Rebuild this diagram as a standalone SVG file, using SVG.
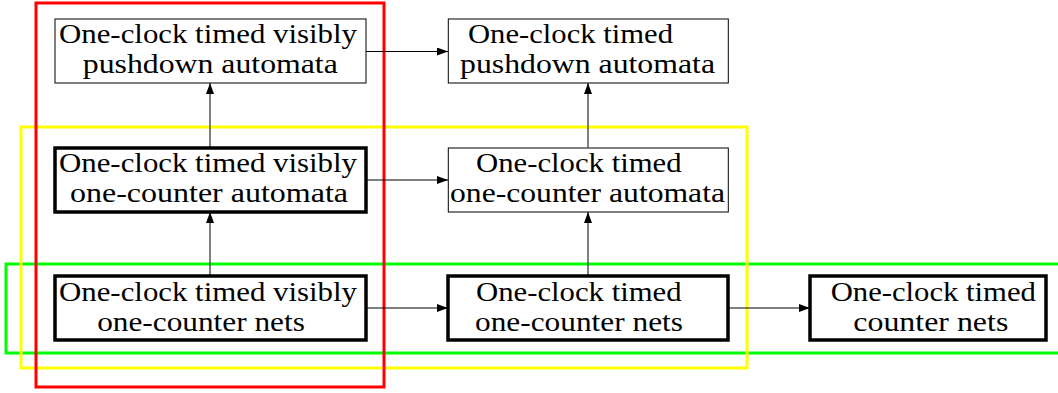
<svg xmlns="http://www.w3.org/2000/svg" width="1058" height="393" viewBox="0 0 1058 393">
  <style>
    .node rect { fill: #ffffff; stroke: #000000; }
    .thin { stroke-width: 1; }
    .thick { stroke-width: 3.5; }
    .node text { font-family: "Liberation Serif", "DejaVu Serif", serif; font-size: 28px; fill: #000000; text-anchor: middle; }
    .edge { stroke: #000000; stroke-width: 1; fill: none; marker-end: url(#arrow); }
    .group { fill: none; stroke-width: 3; }
  </style>
  <defs>
    <marker id="arrow" markerUnits="userSpaceOnUse" markerWidth="12" markerHeight="8" refX="11" refY="4" orient="auto">
      <path d="M0,0 L11,4 L0,8 Z" fill="#000000"/>
    </marker>
  </defs>

  <!-- grouping frames -->
  <g id="frames">
    <rect class="group" x="6" y="264" width="1060" height="89" stroke="#00ff00"/>
    <rect class="group" x="21" y="127" width="726" height="241" stroke="#ffff00"/>
    <rect class="group" x="36" y="3" width="348" height="384" stroke="#ff0000"/>
  </g>

  <!-- connectors -->
  <g id="connectors">
    <line class="edge" x1="366" y1="51.5" x2="448" y2="51.5"/>
    <line class="edge" x1="366" y1="180" x2="448" y2="180"/>
    <line class="edge" x1="366" y1="308" x2="448" y2="308"/>
    <line class="edge" x1="728" y1="308" x2="810" y2="308"/>
    <line class="edge" x1="210" y1="147.5" x2="210" y2="83"/>
    <line class="edge" x1="210" y1="275.5" x2="210" y2="212"/>
    <line class="edge" x1="588" y1="147.5" x2="588" y2="83"/>
    <line class="edge" x1="588" y1="275.5" x2="588" y2="212"/>
  </g>

  <!-- nodes -->
  <g id="tvpda" class="node">
    <rect class="thin" x="55" y="19" width="311" height="64"/>
    <text x="208" y="43.3" textLength="298" lengthAdjust="spacingAndGlyphs">One-clock timed visibly</text>
    <text x="210.3" y="73.3" textLength="255" lengthAdjust="spacingAndGlyphs">pushdown automata</text>
  </g>
  <g id="tpda" class="node">
    <rect class="thin" x="448.3" y="19" width="280" height="64"/>
    <text x="570.5" y="43.3" textLength="205" lengthAdjust="spacingAndGlyphs">One-clock timed</text>
    <text x="587.5" y="73.3" textLength="255" lengthAdjust="spacingAndGlyphs">pushdown automata</text>
  </g>
  <g id="tvoca" class="node">
    <rect class="thick" x="55" y="148" width="311" height="64"/>
    <text x="208" y="171.7" textLength="298" lengthAdjust="spacingAndGlyphs">One-clock timed visibly</text>
    <text x="209" y="201.7" textLength="278" lengthAdjust="spacingAndGlyphs">one-counter automata</text>
  </g>
  <g id="toca" class="node">
    <rect class="thin" x="448.3" y="148" width="280" height="64"/>
    <text x="578.8" y="171.7" textLength="205.7" lengthAdjust="spacingAndGlyphs">One-clock timed</text>
    <text x="587.5" y="201.7" textLength="275" lengthAdjust="spacingAndGlyphs">one-counter automata</text>
  </g>
  <g id="tvocn" class="node">
    <rect class="thick" x="55" y="276" width="311" height="64"/>
    <text x="208" y="301" textLength="298" lengthAdjust="spacingAndGlyphs">One-clock timed visibly</text>
    <text x="201" y="330.7" textLength="207.7" lengthAdjust="spacingAndGlyphs">one-counter nets</text>
  </g>
  <g id="tocn" class="node">
    <rect class="thick" x="448" y="276" width="280" height="64"/>
    <text x="578.8" y="301" textLength="205.7" lengthAdjust="spacingAndGlyphs">One-clock timed</text>
    <text x="579" y="330.7" textLength="208" lengthAdjust="spacingAndGlyphs">one-counter nets</text>
  </g>
  <g id="tcn" class="node">
    <rect class="thick" x="810" y="276" width="236" height="64"/>
    <text x="933.3" y="301" textLength="205.3" lengthAdjust="spacingAndGlyphs">One-clock timed</text>
    <text x="930.8" y="330.7" textLength="155" lengthAdjust="spacingAndGlyphs">counter nets</text>
  </g>
</svg>
